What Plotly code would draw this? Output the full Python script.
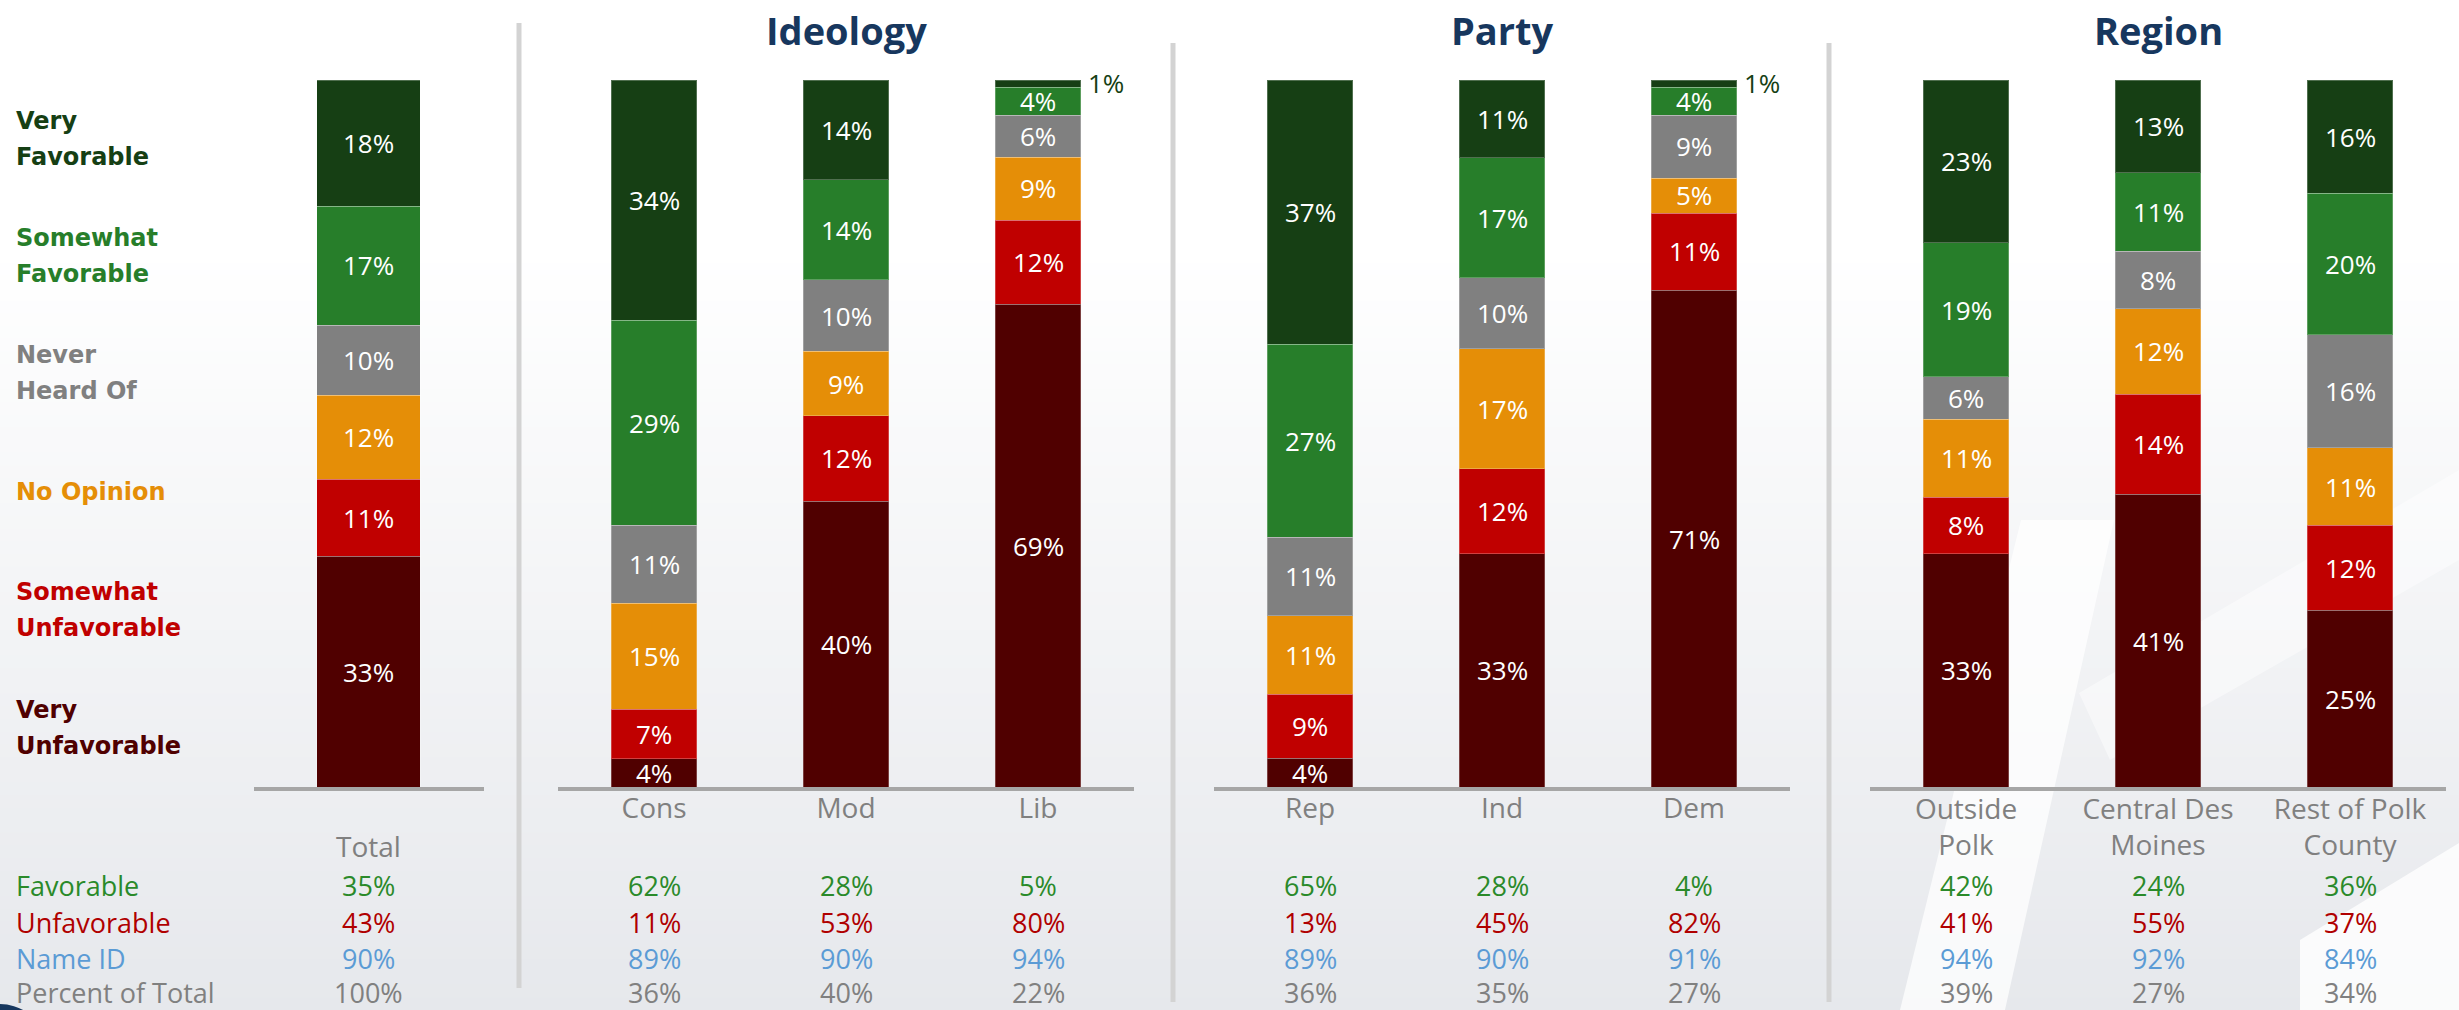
import plotly.graph_objects as go

W, H = 2459, 1010

# ---------------- data ----------------
categories = ["Total", "Cons", "Mod", "Lib", "Rep", "Ind", "Dem",
              "Outside<br>Polk", "Central Des<br>Moines", "Rest of Polk<br>County"]
group_titles = ["", "Ideology", "Party", "Region"]
group_slices = [(0, 1), (1, 4), (4, 7), (7, 10)]

series_names = ["Very Favorable", "Somewhat Favorable", "Never Heard Of",
                "No Opinion", "Somewhat Unfavorable", "Very Unfavorable"]
very_fav = [18, 34, 14, 1, 37, 11, 1, 23, 13, 16]
somewhat_fav = [17, 29, 14, 4, 27, 17, 4, 19, 11, 20]
never_heard = [10, 11, 10, 6, 11, 10, 9, 6, 8, 16]
no_opinion = [12, 15, 9, 9, 11, 17, 5, 11, 12, 11]
somewhat_unfav = [11, 7, 12, 12, 9, 12, 11, 8, 14, 12]
very_unfav = [33, 4, 40, 69, 4, 33, 71, 33, 41, 25]

favorable = [35, 62, 28, 5, 65, 28, 4, 42, 24, 36]
unfavorable = [43, 11, 53, 80, 13, 45, 82, 41, 55, 37]
name_id = [90, 89, 90, 94, 89, 90, 91, 94, 92, 84]
pct_of_total = [100, 36, 40, 22, 36, 35, 27, 39, 27, 34]

stat_labels = ["Favorable", "Unfavorable", "Name ID", "Percent of Total"]

# ---------------- styles ----------------
series_colors = ["#163F14", "#277E2A", "#808080", "#E58E07", "#C00000", "#500000"]
legend_lines = [["Very", "Favorable"], ["Somewhat", "Favorable"], ["Never", "Heard Of"],
                ["No Opinion"], ["Somewhat", "Unfavorable"], ["Very", "Unfavorable"]]
legend_y_px = [139, 256, 373, 492, 610, 728]
stat_colors = ["#2A8A2A", "#B00000", "#5B9BD5", "#808080"]
stat_y_px = [885, 922, 958, 992]
FONT = "Open Sans"
LEG_FONT = "DejaVu Sans"

def py(p):
    return 1 - p / H

def px(p):
    return p / W

# axis domains (pixels)
x_dom_px = [(253.5, 483.5), (558, 1134), (1214, 1790), (1870, 2446)]
x_ranges = [[-0.5, 0.5], [-0.5, 2.5], [-0.5, 2.5], [-0.5, 2.5]]
bar_widths = [0.448, 0.443, 0.443, 0.443]
tick_standoff = [32, -7, -7, -6]
y_dom = [py(787), py(80)]

series_vals = [very_fav, somewhat_fav, never_heard, no_opinion, somewhat_unfav, very_unfav]
totals = [sum(s[i] for s in series_vals) for i in range(len(categories))]
norm = [[v * 100.0 / totals[i] for i, v in enumerate(s)] for s in series_vals]

fig = go.Figure()
annotations = []
layout_axes = {}

for g, (a, b) in enumerate(group_slices):
    xa = "x" if g == 0 else f"x{g+1}"
    ya = "y" if g == 0 else f"y{g+1}"
    cats = categories[a:b]
    # stack bottom -> top
    for si in reversed(range(len(series_names))):
        fig.add_trace(go.Bar(
            x=cats, y=norm[si][a:b], name=series_names[si],
            marker=dict(color=series_colors[si],
                        line=dict(color="rgba(255,255,255,0.25)", width=1)),
            width=bar_widths[g], xaxis=xa, yaxis=ya, showlegend=False,
            hoverinfo="skip"))
    # segment labels
    for k, ci in enumerate(range(a, b)):
        cum = 0.0
        for si in reversed(range(len(series_names))):
            v = norm[si][ci]
            mid = cum + v / 2
            cum += v
            raw = series_vals[si][ci]
            if raw < 3:
                annotations.append(dict(
                    x=cats[k], y=mid, xref=xa, yref=ya, text=f"{raw}%",
                    showarrow=False, xanchor="left", yanchor="middle", xshift=48,
                    font=dict(family=FONT, size=26, color=series_colors[si])))
            else:
                annotations.append(dict(
                    x=cats[k], y=mid, xref=xa, yref=ya, text=f"{raw}%",
                    showarrow=False, xanchor="center", yanchor="middle",
                    font=dict(family=FONT, size=26, color="white")))
        # stats rows
        for r, arr in enumerate([favorable, unfavorable, name_id, pct_of_total]):
            annotations.append(dict(
                x=cats[k], y=py(stat_y_px[r]), xref=xa, yref="paper",
                text=f"{arr[ci]}%", showarrow=False, xanchor="center", yanchor="middle",
                font=dict(family=FONT, size=27, color=stat_colors[r])))
    d0, d1 = x_dom_px[g]
    key = "xaxis" if g == 0 else f"xaxis{g+1}"
    ykey = "yaxis" if g == 0 else f"yaxis{g+1}"
    layout_axes[key] = dict(
        domain=[px(d0), px(d1)], range=x_ranges[g], anchor=ya,
        showline=True, linecolor="#A6A6A6", linewidth=4, showgrid=False,
        zeroline=False, ticks="", tickangle=0,
        tickfont=dict(family=FONT, size=28, color="#808080"),
        ticklabelstandoff=tick_standoff[g], fixedrange=True)
    layout_axes[ykey] = dict(
        domain=y_dom, range=[0, 100], anchor=xa, visible=False,
        showgrid=False, zeroline=False, fixedrange=True)
    if group_titles[g]:
        annotations.append(dict(
            x=px((d0 + d1) / 2), y=py(30), xref="paper", yref="paper",
            text=f"<b>{group_titles[g]}</b>", showarrow=False,
            xanchor="center", yanchor="middle",
            font=dict(family=FONT, size=38, color="#17375E")))

# legend labels (left)
for i, lines in enumerate(legend_lines):
    n = len(lines)
    for j, line in enumerate(lines):
        yy = legend_y_px[i] + (j - (n - 1) / 2) * 36
        annotations.append(dict(
            x=px(14), y=py(yy), xref="paper", yref="paper", text=f"<b>{line}</b>",
            showarrow=False, xanchor="left", yanchor="middle",
            font=dict(family=LEG_FONT, size=24, color=series_colors[i])))

# stat row labels
for r, lab in enumerate(stat_labels):
    annotations.append(dict(
        x=px(14), y=py(stat_y_px[r]), xref="paper", yref="paper", text=lab,
        showarrow=False, xanchor="left", yanchor="middle",
        font=dict(family=FONT, size=27, color=stat_colors[r])))

# background gradient bands
shapes = []
top_col = (255, 255, 255)
bot_col = (230, 232, 236)
n_bands = 60
start = 250
for i in range(n_bands):
    y0 = start + (H - start) * i / n_bands
    y1 = start + (H - start) * (i + 1) / n_bands + 1
    t = (i + 0.5) / n_bands
    c = tuple(int(round(top_col[k] + (bot_col[k] - top_col[k]) * t)) for k in range(3))
    shapes.append(dict(type="rect", xref="paper", yref="paper", x0=0, x1=1,
                       y0=py(min(y1, H)), y1=py(y0), line=dict(width=0),
                       fillcolor=f"rgb{c}", layer="below"))

# faint watermark
def poly(pts):
    path = "M " + " L ".join(f"{px(x):.5f},{py(y):.5f}" for x, y in pts) + " Z"
    return path
for pts, op in [([(1900, 1010), (2005, 1010), (2114, 520), (2021, 520)], 0.75),
                ([(2079, 693), (2459, 470), (2459, 560), (2110, 760)], 0.45),
                ([(2300, 940), (2459, 843), (2459, 1010), (2300, 1010)], 0.8)]:
    shapes.append(dict(type="path", xref="paper", yref="paper", path=poly(pts),
                       fillcolor=f"rgba(255,255,255,{op})", line=dict(width=0), layer="below"))

# separators
for xpx, y0, y1 in [(519, 23, 988), (1173, 43, 1002), (1829, 43, 1002)]:
    shapes.append(dict(type="line", xref="paper", yref="paper", x0=px(xpx), x1=px(xpx),
                       y0=py(y1), y1=py(y0), line=dict(color="#D3D3D3", width=5)))

# corner mark
shapes.append(dict(type="circle", xref="paper", yref="paper",
                   x0=px(-40), x1=px(38), y0=py(1060), y1=py(1004),
                   fillcolor="#17375E", line=dict(width=0)))

fig.update_layout(
    width=W, height=H, margin=dict(l=0, r=0, t=0, b=0),
    paper_bgcolor="white", plot_bgcolor="rgba(0,0,0,0)",
    barmode="stack", annotations=annotations, shapes=shapes,
    font=dict(family=FONT), **layout_axes)

fig.write_html("out.html", config={"displayModeBar": False},
               post_script="document.body.style.margin='0px';document.body.style.overflow='hidden';")
